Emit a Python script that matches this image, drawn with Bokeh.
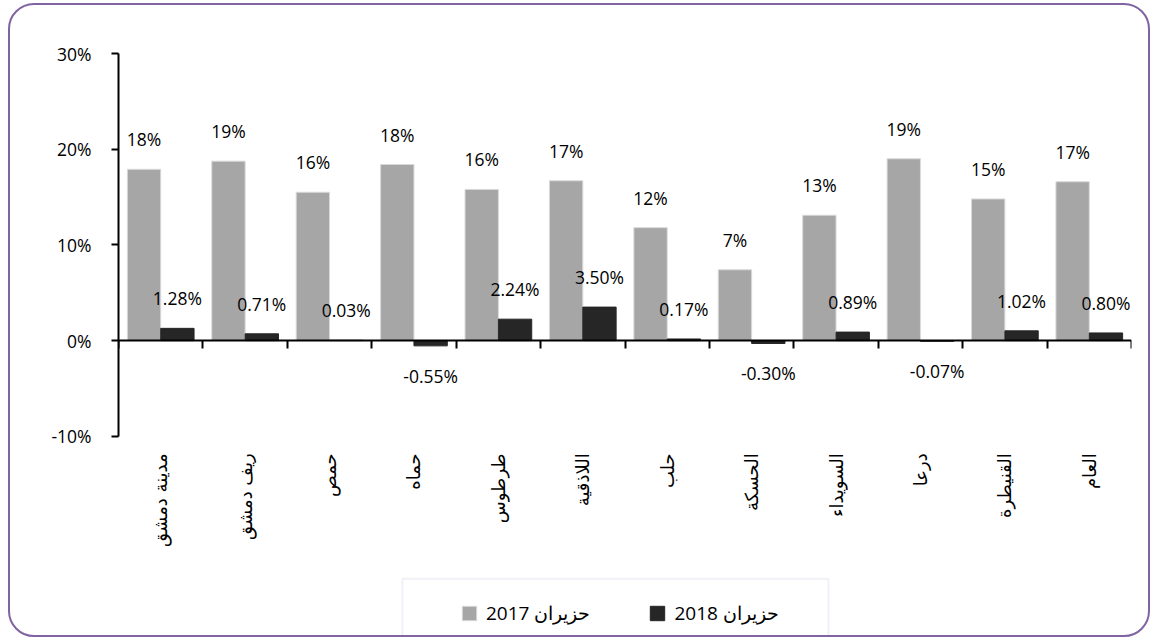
import math
from bokeh.plotting import figure
from bokeh.models import (ColumnDataSource, LinearAxis, FixedTicker, Legend, LegendItem,
                          Range1d, BoxAnnotation)
from bokeh.core.properties import value
from bokeh.embed import file_html
from bokeh.resources import INLINE

categories = ["مدينة دمشق", "ريف دمشق", "حمص", "حماه", "طرطوس", "اللاذقية",
              "حلب", "الحسكة", "السويداء", "درعا", "القنيطرة", "العام"]
june_2017 = [17.9, 18.75, 15.5, 18.4, 15.8, 16.7, 11.8, 7.4, 13.1, 19.0, 14.8, 16.6]
june_2018 = [1.28, 0.71, 0.03, -0.55, 2.24, 3.50, 0.17, -0.30, 0.89, -0.07, 1.02, 0.80]
y_ticks = [-10, 0, 10, 20, 30]
series_names = ["حزيران 2017", "حزيران 2018"]

FONT = "Open Sans"
AR_FONT = "DejaVu Sans"
n = len(categories)
xs = list(range(1, n + 1))
off = 0.1975
bw = 0.395

src = ColumnDataSource(dict(
    x17=[x - off for x in xs],
    x18=[x + off for x in xs],
    v17=june_2017,
    v18=june_2018,
    t17=[f"{int(v + 0.5)}%" for v in june_2017],
    t18=[f"{v:.2f}%" for v in june_2018],
    o17=[-30 for v in june_2017],
    o18=[-30 if v >= 0 else 30 for v in june_2018],
))
cat_src = ColumnDataSource(dict(x=xs, y=[y_ticks[0]] * n, name=categories))

# frame spans from the 30% line down to the bottom of the canvas
px_per_unit = 9.57
frame_h = 634 - 48
y_low = y_ticks[-1] - frame_h / px_per_unit

p = figure(width=1142, height=634, x_range=Range1d(0.5, n + 0.5),
           y_range=Range1d(y_low, y_ticks[-1]),
           x_axis_type=None, y_axis_type=None, output_backend="svg", toolbar_location=None,
           min_border_left=108, min_border_right=21, min_border_top=48, min_border_bottom=0)
p.outline_line_color = None
p.border_fill_color = None
p.background_fill_color = None
p.margin = (3, 0, 0, 8)
p.styles = {"border": "2px solid #8064A2", "border-radius": "26px"}

r17 = p.vbar(x="x17", top="v17", bottom=0, width=bw, fill_color="#A6A6A6",
             line_color="#D9D9D9", line_width=1, source=src)
r18 = p.vbar(x="x18", top="v18", bottom=0, width=bw, fill_color="#262626",
             line_color="#262626", line_width=1, source=src)

for xc, yc, tc, oc in (("x17", "v17", "t17", "o17"), ("x18", "v18", "t18", "o18")):
    p.text(x=xc, y=yc, text=tc, y_offset=oc, text_align="center", text_baseline="middle",
           text_font=value(FONT), text_font_size="17.5px", text_color="#000000", source=src)

# category names, vertical, hanging below the -10% level
p.text(x="x", y="y", text="name", source=cat_src, angle=math.pi / 2, y_offset=17,
       text_align="right", text_baseline="middle", text_font=value(AR_FONT),
       text_font_size="18px", text_color="#000000")

# zero line with ticks (pointing down) at category boundaries
zero_axis = LinearAxis(fixed_location=0,
                       ticker=FixedTicker(ticks=[], minor_ticks=[i + 0.5 for i in range(n + 1)]),
                       major_tick_out=0, major_tick_in=0,
                       minor_tick_out=0, minor_tick_in=8, minor_tick_line_width=2,
                       minor_tick_line_color="#000000",
                       axis_line_width=2, axis_line_color="#000000")
p.add_layout(zero_axis, "above")

y_axis = LinearAxis(ticker=FixedTicker(ticks=y_ticks), bounds=(y_ticks[0], y_ticks[-1]),
                    major_label_overrides={t: f"{t}%" for t in y_ticks},
                    major_tick_out=7, major_tick_in=0, minor_tick_line_color=None,
                    axis_line_width=2, major_tick_line_width=2,
                    axis_line_color="#000000", major_tick_line_color="#000000",
                    major_label_standoff=20, major_label_text_font=FONT,
                    major_label_text_font_size="17.5px", major_label_text_color="#000000")
p.add_layout(y_axis, "left")

legend = Legend(items=[LegendItem(label=series_names[0], renderers=[r17]),
                       LegendItem(label=series_names[1], renderers=[r18])],
                orientation="horizontal", location=(342, 13), padding=5, spacing=58,
                label_standoff=8, glyph_width=18, glyph_height=18,
                border_line_color=None, background_fill_color=None,
                label_text_font=FONT, label_text_font_size="19px",
                label_text_color="#000000")
p.add_layout(legend)

legend_box = BoxAnnotation(left=3.864, right=8.91, top=-24.89, bottom=y_low - 5,
                           fill_alpha=0, line_color="#D5CCE6", line_width=2)
p.add_layout(legend_box)

open("out.html", "w").write(file_html(p, INLINE))
